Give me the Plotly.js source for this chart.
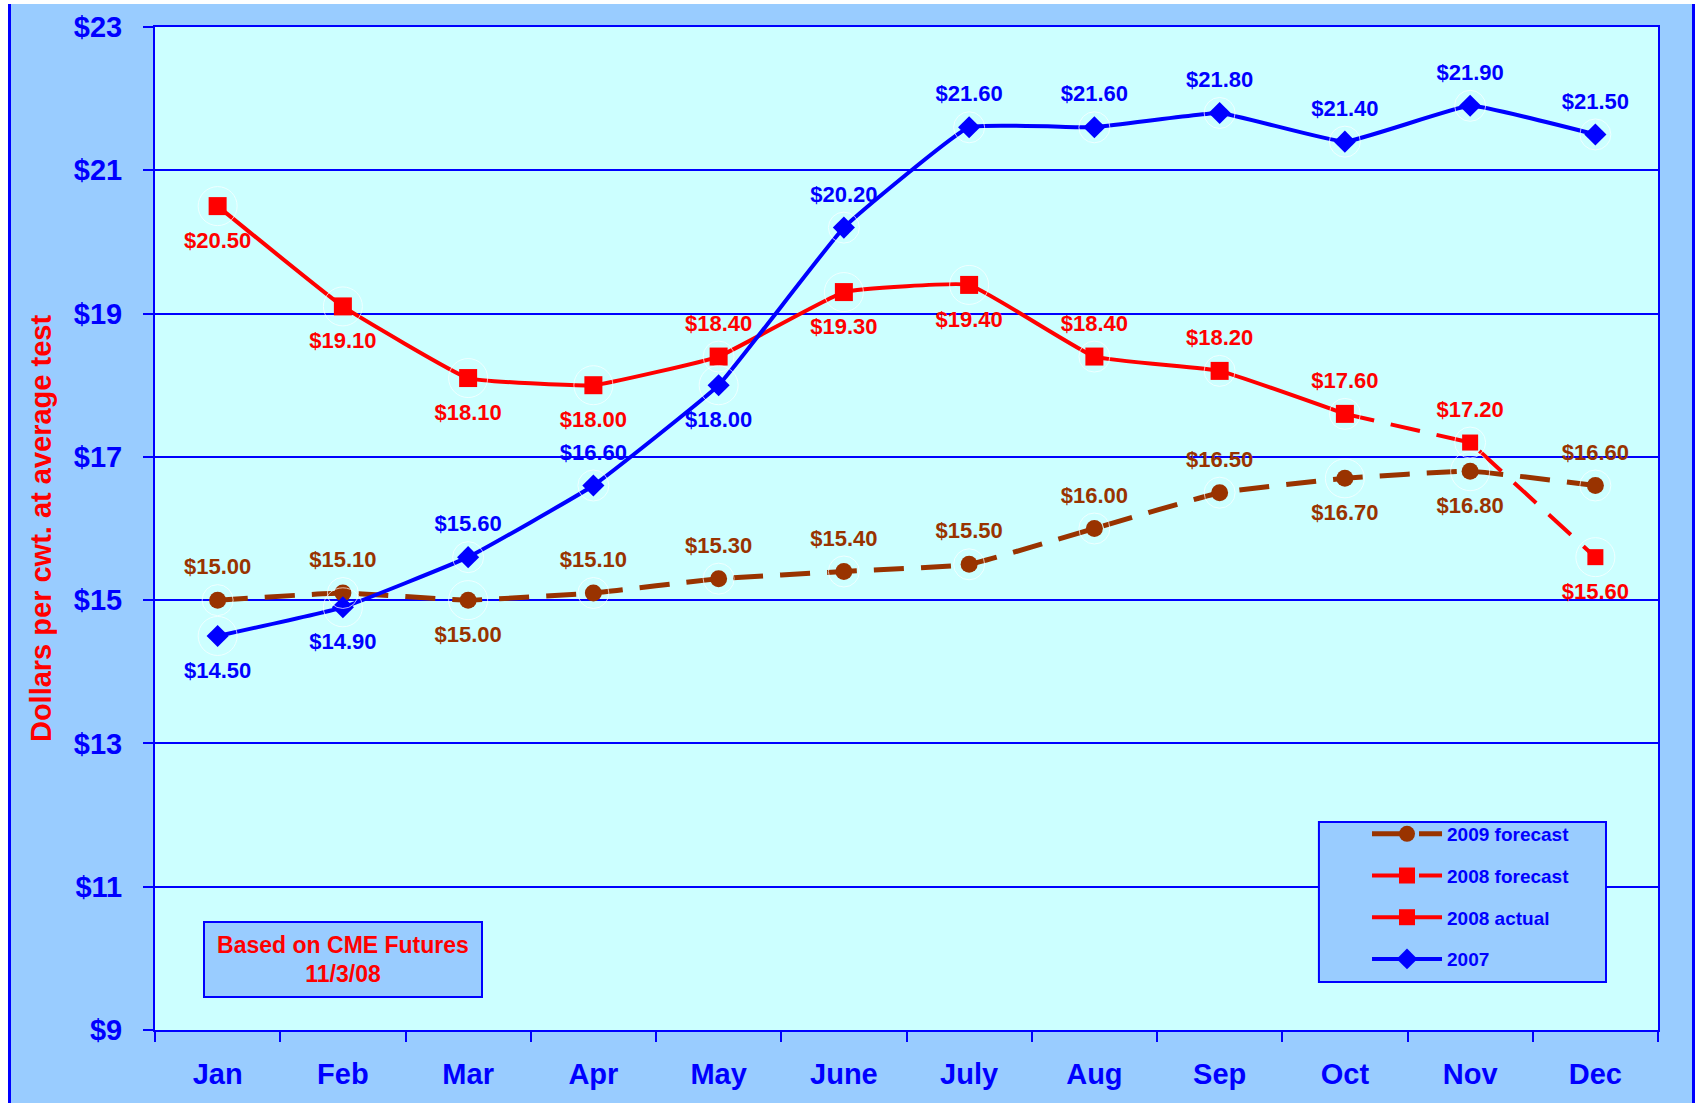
<!DOCTYPE html>
<html>
<head>
<meta charset="utf-8">
<script src="https://cdn.plot.ly/plotly-3.0.1.min.js"></script>
<style>
  html, body { margin:0; padding:0; background:#ffffff; }
  #chart { position:absolute; left:0; top:0; width:1698px; height:1103px; }
  .frame { position:absolute; }
</style>
</head>
<body>
<div id="chart"></div>
<div class="frame" style="left:0;top:0;width:8px;height:1103px;background:#fff;"></div>
<div class="frame" style="left:0;top:0;width:1698px;height:4px;background:#fff;"></div>
<div class="frame" style="left:8px;top:4px;width:3px;height:1099px;background:#0000FF;"></div>
<div class="frame" style="left:1692px;top:4px;width:3px;height:1099px;background:#0000FF;"></div>
<div class="frame" style="left:1695px;top:0;width:3px;height:1103px;background:#fff;"></div>
<script>
// ---- data ----
const months = ['Jan','Feb','Mar','Apr','May','June','July','Aug','Sep','Oct','Nov','Dec'];
const vals2007 = [14.50,14.90,15.60,16.60,18.00,20.20,21.60,21.60,21.80,21.40,21.90,21.50];
const months2008Actual = ['Jan','Feb','Mar','Apr','May','June','July','Aug','Sep','Oct'];
const vals2008Actual = [20.50,19.10,18.10,18.00,18.40,19.30,19.40,18.40,18.20,17.60];
const months2008Forecast = ['Oct','Nov','Dec'];
const vals2008Forecast = [17.60,17.20,15.60];
const vals2009Forecast = [15.00,15.10,15.00,15.10,15.30,15.40,15.50,16.00,16.50,16.70,16.80,16.60];
const yTicks = [9,11,13,15,17,19,21,23];

// label placement (above / below point)
const pos2007 = ['bottom','bottom','top','top','bottom','top','top','top','top','top','top','top'];
const pos2008Actual = ['bottom','bottom','bottom','bottom','top','bottom','bottom','top','top','top'];
const pos2008Forecast = ['top','bottom']; // Nov, Dec
const pos2009 = ['top','top','bottom','top','top','top','top','top','top','bottom','bottom','top'];

// ---- styles ----
const BLUE = '#0000FF', RED = '#FF0000', BROWN = '#993300';
const FONT = 'Liberation Sans, Arial, sans-serif';
const fmt = v => '$' + v.toFixed(2);
const TOP_SIZE = 31, BOTTOM_SIZE = 39;
const SMOOTH = 0.3;

function labelTrace(x, y, positions, color) {
  return {
    x: x, y: y, type: 'scatter', mode: 'markers+text',
    text: y.map(fmt),
    textposition: positions.map(p => p + ' center'),
    textfont: {family: FONT, size: 22, color: color, weight: 'bold'},
    marker: {size: positions.map(p => p === 'top' ? TOP_SIZE : BOTTOM_SIZE), color: 'rgba(0,0,0,0)'},
    showlegend: false, hoverinfo: 'skip', cliponaxis: false
  };
}

const traces = [
  {
    name: '2009 forecast', x: months, y: vals2009Forecast, type: 'scatter', mode: 'lines+markers',
    line: {color: BROWN, width: 5, dash: '30px,17px', shape: 'spline', smoothing: SMOOTH},
    marker: {symbol: 'circle', size: 17, color: BROWN},
    legendrank: 1, legendgroup: 'g1'
  },
  {
    name: '2008 forecast', x: months2008Forecast, y: vals2008Forecast, type: 'scatter', mode: 'lines+markers',
    line: {color: RED, width: 4, dash: '30px,17px'},
    marker: {symbol: 'square', size: 16, color: RED},
    legendrank: 2, legendgroup: 'g2'
  },
  {
    name: '2008 actual', x: months2008Actual, y: vals2008Actual, type: 'scatter', mode: 'lines+markers',
    line: {color: RED, width: 4, shape: 'spline', smoothing: SMOOTH},
    marker: {symbol: 'square', size: 18, color: RED},
    legendrank: 3, legendgroup: 'g3'
  },
  {
    name: '2007', x: months, y: vals2007, type: 'scatter', mode: 'lines+markers',
    line: {color: BLUE, width: 4, shape: 'spline', smoothing: SMOOTH},
    marker: {symbol: 'diamond', size: 17, color: BLUE},
    legendrank: 4, legendgroup: 'g4'
  },
  labelTrace(months, vals2009Forecast, pos2009, BROWN),
  labelTrace(months2008Forecast.slice(1), vals2008Forecast.slice(1), pos2008Forecast, RED),
  labelTrace(months2008Actual, vals2008Actual, pos2008Actual, RED),
  labelTrace(months, vals2007, pos2007, BLUE)
];

const layout = {
  width: 1698, height: 1103,
  margin: {l: 155, r: 40, t: 27, b: 73},
  paper_bgcolor: '#99CCFF',
  plot_bgcolor: '#CCFFFF',
  font: {family: FONT, color: BLUE},
  showlegend: true,
  legend: {
    x: 0.8064, y: 0.2144, xanchor: 'left', yanchor: 'top',
    bgcolor: 'rgba(0,0,0,0)', borderwidth: 0,
    font: {family: FONT, size: 19, color: BLUE, weight: 'bold'},
    itemwidth: 70, tracegroupgap: 14, traceorder: 'grouped'
  },
  xaxis: {
    type: 'category', categoryorder: 'array', categoryarray: months,
    range: [-0.5, 11.5],
    showgrid: false, zeroline: false,
    showline: true, linecolor: BLUE, linewidth: 2, mirror: true,
    ticks: 'outside', tickson: 'boundaries', ticklen: 10, tickwidth: 2, tickcolor: BLUE,
    tickfont: {family: FONT, size: 29, color: BLUE, weight: 'bold'},
    ticklabelstandoff: 17
  },
  yaxis: {
    range: [9, 23], tickvals: yTicks, ticktext: yTicks.map(v => '$' + v),
    showgrid: true, gridcolor: BLUE, gridwidth: 2, zeroline: false,
    showline: true, linecolor: BLUE, linewidth: 2, mirror: true,
    ticks: 'outside', ticklen: 10, tickwidth: 2, tickcolor: BLUE,
    tickfont: {family: FONT, size: 29, color: BLUE, weight: 'bold'},
    ticklabelstandoff: 15,
    title: {text: 'Dollars per cwt. at average test', standoff: 14,
            font: {family: FONT, size: 29, color: RED, weight: 'bold'}}
  },
  shapes: [
    {type: 'rect', xref: 'paper', yref: 'paper', x0: 0.7744, x1: 0.9654, y0: 0.0479, y1: 0.2074,
     fillcolor: '#99CCFF', line: {color: BLUE, width: 2}, layer: 'above'}
  ],
  annotations: [
    {xref: 'paper', yref: 'paper', x: 0.125, y: 0.0703, xanchor: 'center', yanchor: 'middle',
     text: 'Based on CME Futures<br>11/3/08', showarrow: false,
     font: {family: FONT, size: 23, color: RED, weight: 'bold'},
     bgcolor: '#99CCFF', bordercolor: BLUE, borderwidth: 2, borderpad: 0,
     width: 276, height: 73, align: 'center'}
  ]
};

Plotly.newPlot('chart', traces, layout, {displayModeBar: false, staticPlot: true});
</script>
</body>
</html>
